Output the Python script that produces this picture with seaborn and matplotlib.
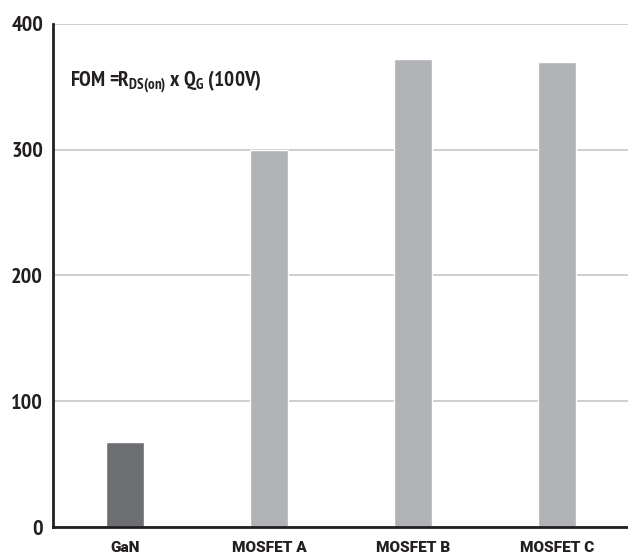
import matplotlib
matplotlib.use("Agg")
import matplotlib.pyplot as plt
from matplotlib import font_manager as fm
import seaborn as sns
import pandas as pd

categories = ["GaN", "MOSFET A", "MOSFET B", "MOSFET C"]
values = [68, 300, 372, 370]
bar_colors = ["#6d6e71", "#b1b3b6", "#b1b3b6", "#b1b3b6"]
yticks = [0, 100, 200, 300, 400]
annotation = r"FOM =R$_{\mathregular{DS(on)}}$ x Q$_{\mathregular{G}}$ (100V)"

sns.set_theme(style="white")

names = {f.name for f in fm.fontManager.ttflist}
cond = None
for cand in ["PT Sans Narrow", "Roboto Condensed", "Open Sans Condensed",
             "Fira Sans Condensed", "Fira Sans Extra Condensed", "Barlow Semi Condensed",
             "Barlow Condensed", "Archivo Narrow", "Encode Sans Condensed",
             "IBM Plex Sans Condensed", "Asap Condensed", "Saira Semi Condensed"]:
    if cand in names:
        cond = cand
        break
if cond is None:
    cond = "DejaVu Sans"
heavy = "Roboto" if "Roboto" in names else "Liberation Sans"

plt.rcParams['font.family'] = [cond, 'DejaVu Sans']
plt.rcParams['mathtext.fontset'] = 'custom'
plt.rcParams['mathtext.rm'] = cond + ':bold'
plt.rcParams['mathtext.default'] = 'rm'

df = pd.DataFrame({"device": categories, "fom": values})

fig = plt.figure(figsize=(6.28, 5.56), dpi=100)
ax = fig.add_axes([0.084, 0.052, 0.918, 0.905])

sns.barplot(data=df, x="device", y="fom", hue="device", palette=bar_colors,
            width=0.26, legend=False, ax=ax, zorder=3, saturation=1)

ax.set_ylim(0, 400)
ax.set_xlim(-0.5, 3.5)
ax.set_yticks(yticks)
ax.set_yticklabels([str(t) for t in yticks], fontsize=16, fontweight='bold',
                   family=[cond, 'DejaVu Sans'], color='#231f20')
ax.set_xticks(range(len(categories)))
xl = ax.set_xticklabels(categories, fontsize=10.5, fontweight=900,
                        family=[heavy, 'DejaVu Sans'], color='#231f20')
ax.tick_params(axis='both', length=0)
ax.tick_params(axis='y', pad=7)
ax.tick_params(axis='x', pad=10)
ax.set_xlabel("")
ax.set_ylabel("")

ax.yaxis.grid(True, color="#c8c9cb", linewidth=1.3, zorder=0)
ax.set_axisbelow(True)
for s in ["top", "right"]:
    ax.spines[s].set_visible(False)
for s in ["left", "bottom"]:
    ax.spines[s].set_color("#231f20")
    ax.spines[s].set_linewidth(2)
    ax.spines[s].set_zorder(5)

t = ax.text(0.03, 0.885, annotation,
            transform=ax.transAxes, fontsize=15, fontweight='bold',
            family=[cond, 'DejaVu Sans'], color='#231f20',
            va='center', ha='left')
fig.canvas.draw()
w = t.get_window_extent().width
if w > 0:
    t.set_fontsize(max(10, min(17, 15 * 192.0 / w)))
wx = xl[1].get_window_extent().width
if wx > 0:
    fsx = max(8, min(13, 10.5 * 75.0 / wx))
    for lab in xl:
        lab.set_fontsize(fsx)

fig.savefig("out.png", dpi=100, facecolor="white")
